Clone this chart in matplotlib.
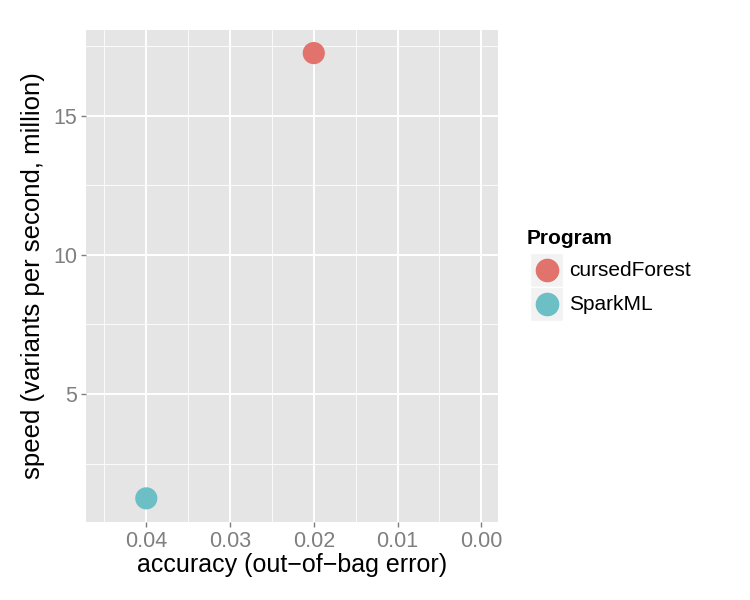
import matplotlib.pyplot as plt
from matplotlib.patches import Rectangle
from matplotlib.lines import Line2D

# --- data ---
programs = ["cursedForest", "SparkML"]
oob_error = [0.020, 0.040]
speed = [17.25, 1.25]
colors = ["#E2726C", "#6BBFC5"]

x_ticks = [0.04, 0.03, 0.02, 0.01, 0.00]
x_minor = [0.045, 0.035, 0.025, 0.015, 0.005]
y_ticks = [5, 10, 15]
y_minor = [2.5, 7.5, 12.5, 17.5]

plt.rcParams['font.family'] = ['Liberation Sans', 'DejaVu Sans']

fig = plt.figure(figsize=(7.5, 6), dpi=100)
ax = fig.add_axes([86 / 750, 1 - 522 / 600, 412 / 750, 492 / 600])
ax.set_facecolor("#E5E5E5")

for i in range(len(programs)):
    ax.scatter(oob_error[i], speed[i], s=255, color=colors[i],
               edgecolors="none", zorder=3)

# reversed x axis like scale_x_reverse
ax.set_xlim(0.0472, -0.0020)
ax.set_ylim(0.40, 18.08)

ax.set_xticks(x_ticks)
ax.set_xticklabels(["%.2f" % v for v in x_ticks])
ax.set_xticks(x_minor, minor=True)
ax.set_yticks(y_ticks)
ax.set_yticks(y_minor, minor=True)

ax.grid(which="major", color="white", linewidth=1.4)
ax.grid(which="minor", color="white", linewidth=0.6)
ax.set_axisbelow(True)
for sp in ax.spines.values():
    sp.set_visible(False)

ax.tick_params(which="major", length=3.5, width=1, color="#7F7F7F",
               labelcolor="#7F7F7F", labelsize=15.5, pad=3)
ax.tick_params(which="minor", length=0)

ax.set_xlabel("accuracy (out\u2212of\u2212bag error)", fontsize=18, labelpad=1)
ax.set_ylabel("speed (variants per second, million)", fontsize=18.5, labelpad=6)

# --- legend (ggplot-style keys) ---
W, H = 750.0, 600.0
fig.text(527 / W, 1 - 238 / H, "Program", fontsize=15, fontweight="bold",
         va="center", ha="left")
for i, name in enumerate(programs):
    top = 253 + i * 34
    fig.add_artist(Rectangle((530 / W, 1 - (top + 34) / H), 33 / W, 34 / H,
                             transform=fig.transFigure, facecolor="#F2F2F2",
                             edgecolor="white", linewidth=1))
    fig.add_artist(Line2D([547 / W], [1 - (top + 17) / H], marker="o",
                          markersize=16, color=colors[i], linestyle="none",
                          transform=fig.transFigure))
    fig.text(569 / W, 1 - (top + 17) / H, name, fontsize=15,
             va="center", ha="left")

fig.savefig("out.png", dpi=100)
